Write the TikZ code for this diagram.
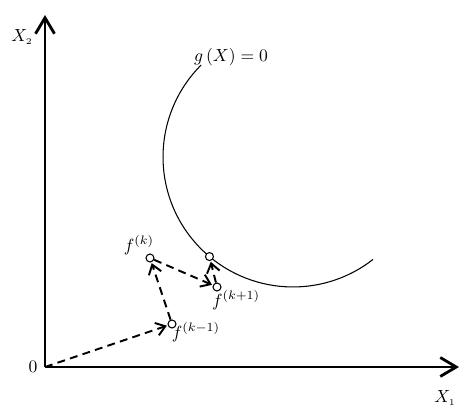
\documentclass[tikz,border=0pt]{standalone}
\usepackage{tikz}
\usetikzlibrary{arrows.meta}

\begin{document}
\begin{tikzpicture}[x=0.02cm,y=0.02cm,
  axis/.style={line width=1.6pt,-{Straight Barb[length=3.2mm,width=3.8mm,line width=1.6pt]}},
  iter/.style={line width=1.1pt,dash pattern=on 4.5pt off 3pt,-{Straight Barb[length=1.8mm,width=2.6mm,line width=1.1pt]},shorten >=0.5pt},
  pt/.style={circle,draw,fill=white,inner sep=0pt,minimum size=0.16cm,line width=0.6pt}]
\useasboundingbox (0,0) rectangle (474,416);
\coordinate (O) at (45,49);
\coordinate (xend) at (459,49);
\coordinate (yend) at (45,401);
\coordinate (c) at (293,259);
\draw[axis] (O) -- (xend);
\draw[axis] (O) -- (yend);
\node (orig) at (33,49) {0};
\node (xone) at (445,18) {$X_{\scriptscriptstyle 1}$};
\node (xtwo) at (22,379) {$X_{\scriptscriptstyle 2}$};
\draw[line width=0.6pt] ([shift={(135:2.6cm)}]c) arc[start angle=135,end angle=308,radius=2.6cm];
\node (gx) at (231,359) {$g\,(X)=0$};
\node[pt] (fkm1) at (172,92) {};
\node[pt] (fk) at (150,158) {};
\node[pt] (fkp1) at (217,129) {};
\node[pt] (xs) at ([shift={(230:2.6cm)}]c) {};
\draw[iter] (O) -- (fkm1);
\draw[iter] (fkm1) -- (fk);
\draw[iter] (fk) -- (fkp1);
\draw[iter] (fkp1) -- (xs);
\node (lk) at (139,171) {$f^{(k)}$};
\node (lkp1) at (236,116) {$f^{(k+1)}$};
\node (lkm1) at (196,84) {$f^{(k-1)}$};
\end{tikzpicture}
\end{document}
